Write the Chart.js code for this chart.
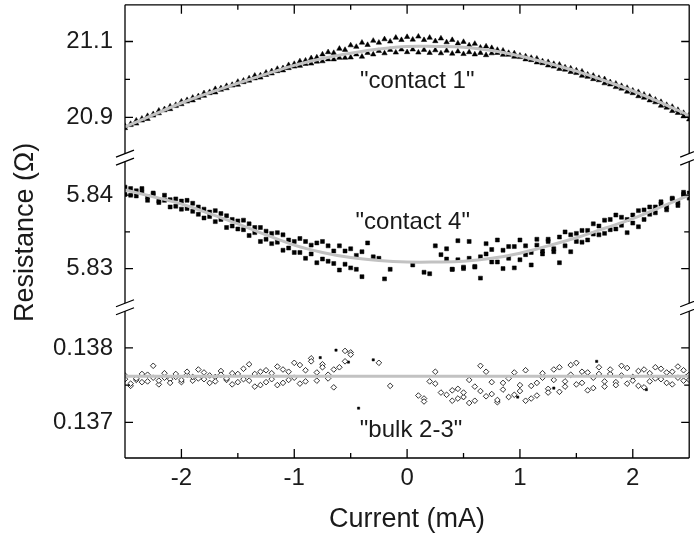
<!DOCTYPE html>
<html lang="en">
<head>
<meta charset="UTF-8">
<title>Resistance vs current</title>
<style>
  body { margin: 0; background: #fff; }
</style>
</head>
<body>
<canvas id="mychart" width="694" height="544"></canvas>
<script src="https://cdn.jsdelivr.net/npm/chart.js"></script>
<script>
// current sweep (mA)
const current = [
  -2.5, -2.45, -2.4, -2.35, -2.3, -2.25, -2.2, -2.15, -2.1, -2.05,
  -2, -1.95, -1.9, -1.85, -1.8, -1.75, -1.7, -1.65, -1.6, -1.55,
  -1.5, -1.45, -1.4, -1.35, -1.3, -1.25, -1.2, -1.15, -1.1, -1.05,
  -1, -0.95, -0.9, -0.85, -0.8, -0.75, -0.7, -0.65, -0.6, -0.55,
  -0.5, -0.45, -0.4, -0.35, -0.3, -0.25, -0.2, -0.15, -0.1, -0.05,
  0,
  0.05, 0.1, 0.15, 0.2, 0.25, 0.3, 0.35, 0.4, 0.45, 0.5,
  0.55, 0.6, 0.65, 0.7, 0.75, 0.8, 0.85, 0.9, 0.95, 1,
  1.05, 1.1, 1.15, 1.2, 1.25, 1.3, 1.35, 1.4, 1.45, 1.5,
  1.55, 1.6, 1.65, 1.7, 1.75, 1.8, 1.85, 1.9, 1.95, 2,
  2.05, 2.1, 2.15, 2.2, 2.25, 2.3, 2.35, 2.4, 2.45, 2.5
];

// "contact 1" (ohm), two sweeps
const contact1Up = [
  20.878, 20.883, 20.892, 20.897, 20.904, 20.909, 20.918, 20.922, 20.929, 20.933,
  20.942, 20.946, 20.952, 20.956, 20.964, 20.967, 20.975, 20.977, 20.983, 20.986,
  20.994, 20.997, 21.003, 21.010, 21.011, 21.018, 21.022, 21.028, 21.030, 21.038,
  21.041, 21.048, 21.050, 21.056, 21.058, 21.066, 21.072, 21.070, 21.081, 21.078,
  21.090, 21.086, 21.097, 21.091, 21.102, 21.097, 21.106, 21.100, 21.110, 21.104,
  21.112,
  21.105, 21.113, 21.104, 21.110, 21.101, 21.108, 21.098, 21.104, 21.095, 21.099,
  21.090, 21.094, 21.084, 21.087, 21.083, 21.078, 21.076, 21.070, 21.069, 21.063,
  21.061, 21.057, 21.055, 21.048, 21.046, 21.041, 21.039, 21.032, 21.029, 21.024,
  21.021, 21.013, 21.010, 21.004, 21.001, 20.993, 20.989, 20.983, 20.978, 20.971,
  20.967, 20.960, 20.955, 20.947, 20.941, 20.933, 20.928, 20.920, 20.912, 20.906
];
const contact1Down = [
  20.872, 20.880, 20.884, 20.892, 20.896, 20.905, 20.911, 20.919, 20.922, 20.930,
  20.935, 20.942, 20.945, 20.952, 20.957, 20.964, 20.966, 20.973, 20.977, 20.984,
  20.986, 20.993, 20.997, 21.003, 21.005, 21.012, 21.016, 21.022, 21.024, 21.030,
  21.034, 21.036, 21.041, 21.042, 21.047, 21.048, 21.053, 21.053, 21.057, 21.057,
  21.058, 21.066, 21.060, 21.070, 21.066, 21.075, 21.069, 21.078, 21.071, 21.079,
  21.072,
  21.079, 21.071, 21.078, 21.070, 21.077, 21.069, 21.076, 21.068, 21.074, 21.067,
  21.072, 21.066, 21.070, 21.064, 21.069, 21.070, 21.065, 21.065, 21.060, 21.059,
  21.053, 21.051, 21.045, 21.043, 21.037, 21.034, 21.028, 21.026, 21.020, 21.017,
  21.010, 21.007, 21.001, 20.998, 20.990, 20.987, 20.980, 20.976, 20.968, 20.964,
  20.956, 20.952, 20.945, 20.940, 20.931, 20.926, 20.917, 20.912, 20.903, 20.895
];

// "contact 4" (ohm), two sweeps
const contact4Up = [
  5.8411, 5.8400, 5.8406, 5.8409, 5.8398, 5.8403, 5.8392, 5.8400, 5.8394, 5.8385,
  5.8392, 5.8382, 5.8389, 5.8374, 5.8381, 5.8371, 5.8379, 5.8367, 5.8372, 5.8358,
  5.8365, 5.8353, 5.8361, 5.8349, 5.8356, 5.8340, 5.8348, 5.8336, 5.8346, 5.8328,
  5.8337, 5.8322, 5.8337, 5.8320, 5.8335, 5.8313, 5.8331, 5.8307, 5.8331, 5.8306,
  5.8327, 5.8299, 5.8323, 5.8335, null, 5.8314, null, null, null, null,
  null,
  5.8305, null, 5.8295, null, 5.8331, 5.8319, 5.8327, 5.8299, 5.8338, 5.8300,
  5.8337, 5.8303, 5.8316, 5.8334, 5.8326, 5.8339, 5.8300, 5.8330, 5.8301, 5.8339,
  5.8319, 5.8305, 5.8340, 5.8324, 5.8340, 5.8327, 5.8308, 5.8350, 5.8323, 5.8348,
  5.8336, 5.8352, 5.8361, 5.8346, 5.8366, 5.8353, 5.8373, 5.8359, 5.8349, 5.8373,
  5.8357, 5.8380, 5.8374, 5.8384, 5.8388, 5.8380, 5.8395, 5.8386, 5.8401, 5.8403
];
const contact4Down = [
  5.8401, 5.8409, 5.8399, 5.8404, 5.8393, 5.8401, 5.8390, 5.8393, 5.8384, 5.8395,
  5.8381, 5.8393, 5.8378, 5.8384, 5.8369, 5.8377, 5.8364, 5.8375, 5.8356, 5.8367,
  5.8354, 5.8366, 5.8345, 5.8356, 5.8337, 5.8351, 5.8334, 5.8349, 5.8325, 5.8339,
  5.8322, 5.8341, 5.8314, 5.8332, 5.8308, 5.8337, 5.8310, 5.8324, 5.8298, 5.8324,
  5.8301, 5.8318, 5.8289, null, 5.8316, null, 5.8286, 5.8299, null, null,
  null,
  null, null, null, 5.8293, null, null, 5.8313, 5.8299, 5.8312, 5.8302,
  5.8314, 5.8302, 5.8287, 5.8320, 5.8309, 5.8309, 5.8325, 5.8314, 5.8330, 5.8312,
  5.8331, 5.8322, 5.8332, 5.8320, 5.8337, 5.8323, 5.8343, 5.8331, 5.8346, 5.8337,
  5.8352, 5.8339, 5.8347, 5.8358, 5.8348, 5.8367, 5.8354, 5.8370, 5.8367, 5.8362,
  5.8379, 5.8367, 5.8384, 5.8376, 5.8391, 5.8384, 5.8396, 5.8390, 5.8404, 5.8396
];

// "bulk 2-3" (ohm), two sweeps (open diamonds)
const bulkUp = [
  0.13758, 0.13752, 0.13759, 0.13754, 0.13764, 0.13776, 0.13756, 0.13760, 0.13753, 0.13765,
  0.13757, 0.13768, 0.13761, 0.13771, 0.13758, 0.13763, 0.13755, 0.13764, 0.13759, 0.13766,
  0.13754, 0.13772, 0.13756, 0.13765, 0.13750, 0.13770, 0.13758, 0.13775, 0.13753, 0.13768,
  0.13760, 0.13777, 0.13755, 0.13782, 0.13767, 0.13774, 0.13759, 0.13747, 0.13774, 0.13796,
  0.13791, null, null, null, null, null, null, 0.13749, null, null,
  null,
  null, 0.13736, 0.13728, 0.13755, 0.13768, 0.13740, null, 0.13743, 0.13732, 0.13740,
  0.13726, 0.13748, 0.13776, 0.13735, 0.13754, 0.13730, 0.13744, 0.13759, 0.13737, 0.13750,
  0.13770, 0.13732, 0.13753, 0.13766, 0.13740, 0.13757, 0.13774, 0.13748, 0.13764, 0.13780,
  0.13753, 0.13767, 0.13746, 0.13765, 0.13755, 0.13771, 0.13750, 0.13763, 0.13773, 0.13756,
  0.13769, 0.13747, 0.13766, 0.13759, 0.13772, 0.13753, 0.13768, 0.13760, 0.13770, 0.13757
];
const bulkDown = [
  0.13763, 0.13749, 0.13757, 0.13765, 0.13755, 0.13760, 0.13751, 0.13766, 0.13758, 0.13761,
  0.13754, 0.13764, 0.13756, 0.13759, 0.13767, 0.13753, 0.13761, 0.13769, 0.13757, 0.13751,
  0.13765, 0.13758, 0.13778, 0.13748, 0.13768, 0.13754, 0.13766, 0.13750, 0.13771, 0.13757,
  0.13780, 0.13752, 0.13770, 0.13786, 0.13756, 0.13778, 0.13764, 0.13771, null, 0.13782,
  0.13794, null, null, null, null, 0.13780, null, null, null, null,
  null,
  null, null, 0.13732, null, 0.13752, null, 0.13737, 0.13729, 0.13745, 0.13734,
  0.13757, 0.13729, 0.13742, 0.13768, 0.13738, 0.13727, 0.13753, 0.13734, 0.13767, 0.13742,
  0.13729, 0.13749, 0.13736, 0.13760, 0.13745, 0.13771, 0.13741, 0.13755, 0.13777, 0.13751,
  0.13768, 0.13743, 0.13760, 0.13774, 0.13748, 0.13765, 0.13754, 0.13776, 0.13752, 0.13761,
  0.13749, 0.13771, 0.13755, 0.13774, 0.13758, 0.13767, 0.13751, 0.13775, 0.13756, 0.13764
];
// a few bulk readings drawn as small filled dots
const bulkDotX = [-0.77, -0.63, -0.52, -0.43, -0.30, 0.50, 0.98, 1.30, 1.68, 2.12, 2.48];
const bulkDotY = [0.13787, 0.13797, 0.13781, 0.13719, 0.13784, 0.13733, 0.13734, 0.13746, 0.13782, 0.13744, 0.13763];

// fitted curves (grey)
const fitX = [-2.5, -2.25, -2, -1.75, -1.5, -1.25, -1, -0.75, -0.5, -0.25, 0,
              0.25, 0.5, 0.75, 1, 1.25, 1.5, 1.75, 2, 2.25, 2.5];
const fit1 = [20.875, 20.907, 20.938, 20.965, 20.990, 21.014, 21.037, 21.055, 21.069, 21.080, 21.087,
              21.087, 21.085, 21.076, 21.062, 21.043, 21.022, 20.997, 20.970, 20.939, 20.905];
const fit4 = [5.8407, 5.8398, 5.8388, 5.8375, 5.8361, 5.8346, 5.8332, 5.8322, 5.8315, 5.8311, 5.8309,
              5.8309, 5.8310, 5.8314, 5.8321, 5.8331, 5.8342, 5.8355, 5.8368, 5.8384, 5.8400];
const fitBulkX = [-2.5, 2.5];
const fitBulk = [0.13762, 0.13762];

// ticks
const xTicks = [-2, -1, 0, 1, 2];
const xTickLabels = ['-2', '-1', '0', '1', '2'];
const xMinor = [-1.5, -0.5, 0.5, 1.5];
const topTicks = [20.9, 21.1];
const topTickLabels = ['20.9', '21.1'];
const topMinor = [21.0];
const midTicks = [5.83, 5.84];
const midTickLabels = ['5.83', '5.84'];
const midMinor = [5.835];
const botTicks = [0.137, 0.138];
const botTickLabels = ['0.137', '0.138'];
const botMinor = [0.1375];
const panelNames = ['"contact 1"', '"contact 4"', '"bulk 2-3"'];

const ink = '#1a1a1a';
const fitGray = '#c2c2c2';
const family = '"Liberation Sans", Arial, sans-serif';
Chart.defaults.font.family = family;

function pts(xs, ys) {
  const out = [];
  xs.forEach((x, i) => { if (ys[i] !== null) out.push({x: x, y: ys[i]}); });
  return out;
}

function yScale(ticks, labels, min, max, weight, title) {
  return {
    type: 'linear', position: 'left', stack: 'res', stackWeight: weight,
    min: min, max: max,
    afterBuildTicks: s => { s.ticks = ticks.map(v => ({value: v})); },
    afterFit: s => { s.width = 125; s.paddingTop = 0; s.paddingBottom = 0; },
    grid: {display: false, drawTicks: false},
    border: {display: false},
    ticks: {padding: 12, color: ink, font: {size: 24}, callback: (v, i) => labels[i]},
    title: title ? {display: true, text: title, color: ink, font: {size: 27}, padding: {top: 9, bottom: 0}} : {display: false}
  };
}

// frame, inward ticks, axis breaks and panel names
const framePlugin = {
  id: 'frame',
  afterDraw(chart) {
    const ctx = chart.ctx;
    const a = chart.chartArea;
    const sx = chart.scales.x;
    ctx.save();
    ctx.strokeStyle = '#000';
    ctx.lineWidth = 1.3;
    ctx.beginPath();
    ctx.moveTo(a.left, a.top); ctx.lineTo(a.right, a.top);
    ctx.moveTo(a.left, a.bottom); ctx.lineTo(a.right, a.bottom);
    ctx.moveTo(a.left, a.top); ctx.lineTo(a.left, a.bottom);
    ctx.moveTo(a.right, a.top); ctx.lineTo(a.right, a.bottom);
    const xt = (vals, len) => vals.forEach(v => {
      const p = sx.getPixelForValue(v);
      ctx.moveTo(p, a.bottom); ctx.lineTo(p, a.bottom - len);
      ctx.moveTo(p, a.top); ctx.lineTo(p, a.top + len);
    });
    xt(xTicks, 9);
    xt(xMinor, 5);
    [['yTop', topTicks, topMinor], ['yMid', midTicks, midMinor], ['yBot', botTicks, botMinor]].forEach(([id, major, minor]) => {
      const s = chart.scales[id];
      const yt = (vals, len) => vals.forEach(v => {
        const p = s.getPixelForValue(v);
        ctx.moveTo(a.left, p); ctx.lineTo(a.left + len, p);
        ctx.moveTo(a.right, p); ctx.lineTo(a.right - len, p);
      });
      yt(major, 8);
      yt(minor, 5);
    });
    ctx.stroke();

    [chart.scales.yTop.bottom, chart.scales.yMid.bottom].forEach(c => {
      [a.left, a.right].forEach(x => {
        ctx.fillStyle = '#fff';
        ctx.beginPath();
        ctx.moveTo(x - 9, c - 0.5); ctx.lineTo(x + 9, c - 7.5);
        ctx.lineTo(x + 9, c + 0.5); ctx.lineTo(x - 9, c + 7.5);
        ctx.closePath();
        ctx.fill();
        ctx.beginPath();
        ctx.moveTo(x - 9, c - 0.5); ctx.lineTo(x + 9, c - 7.5);
        ctx.moveTo(x - 9, c + 7.5); ctx.lineTo(x + 9, c + 0.5);
        ctx.stroke();
      });
    });

    ctx.fillStyle = ink;
    ctx.font = '24px ' + family;
    ctx.textAlign = 'center';
    ctx.textBaseline = 'middle';
    ctx.fillText(panelNames[0], sx.getPixelForValue(0.09), chart.scales.yTop.getPixelForValue(20.995));
    ctx.fillText(panelNames[1], sx.getPixelForValue(0.05), chart.scales.yMid.getPixelForValue(5.83635));
    ctx.fillText(panelNames[2], sx.getPixelForValue(0.035), chart.scales.yBot.getPixelForValue(0.13689));
    ctx.restore();
  }
};

const fitLine = (xs, ys, axis) => ({
  data: pts(xs, ys), yAxisID: axis, showLine: true, pointRadius: 0,
  borderColor: fitGray, borderWidth: 3, tension: 0.4, order: 0
});
const marks = (ys, axis, style, r, fill, bw) => ({
  data: pts(current, ys), yAxisID: axis, pointStyle: style, pointRadius: r,
  backgroundColor: fill, borderColor: '#000', borderWidth: bw, order: 1
});

new Chart(document.getElementById('mychart').getContext('2d'), {
  type: 'scatter',
  data: {
    datasets: [
      marks(contact1Up, 'yTop', 'triangle', 3.1, '#000', 0.5),
      marks(contact1Down, 'yTop', 'triangle', 3.1, '#000', 0.5),
      fitLine(fitX, fit1, 'yTop'),
      marks(contact4Up, 'yMid', 'rect', 2.8, '#000', 0.5),
      marks(contact4Down, 'yMid', 'rect', 2.8, '#000', 0.5),
      fitLine(fitX, fit4, 'yMid'),
      marks(bulkUp, 'yBot', 'rectRot', 2.8, '#fff', 0.8),
      marks(bulkDown, 'yBot', 'rectRot', 2.8, '#fff', 0.8),
      {data: pts(bulkDotX, bulkDotY), yAxisID: 'yBot', pointStyle: 'rect', pointRadius: 1.6,
       backgroundColor: '#000', borderColor: '#000', borderWidth: 0.5, order: 1},
      fitLine(fitBulkX, fitBulk, 'yBot')
    ]
  },
  options: {
    responsive: false,
    animation: false,
    events: [],
    layout: {padding: {top: 1, right: 4, left: 0, bottom: 0}},
    plugins: {legend: {display: false}, tooltip: {enabled: false}},
    scales: {
      x: {
        type: 'linear', position: 'bottom', min: -2.5, max: 2.5,
        afterBuildTicks: s => { s.ticks = xTicks.map(v => ({value: v})); },
        afterFit: s => { s.height = 86; s.paddingLeft = 0; s.paddingRight = 0; },
        grid: {display: false, drawTicks: false},
        border: {display: false},
        ticks: {padding: 6, color: ink, font: {size: 24}, maxRotation: 0, callback: (v, i) => xTickLabels[i]},
        title: {display: true, text: 'Current (mA)', color: ink, font: {size: 27}, padding: {top: 0, bottom: 8}}
      },
      yBot: yScale(botTicks, botTickLabels, 0.13652, 0.138547, 152),
      yMid: yScale(midTicks, midTickLabels, 5.82473, 5.845135, 151, 'Resistance (\u03a9)'),
      yTop: yScale(topTicks, topTickLabels, 20.7945, 21.1966, 154)
    }
  },
  plugins: [framePlugin]
});
</script>
</body>
</html>
